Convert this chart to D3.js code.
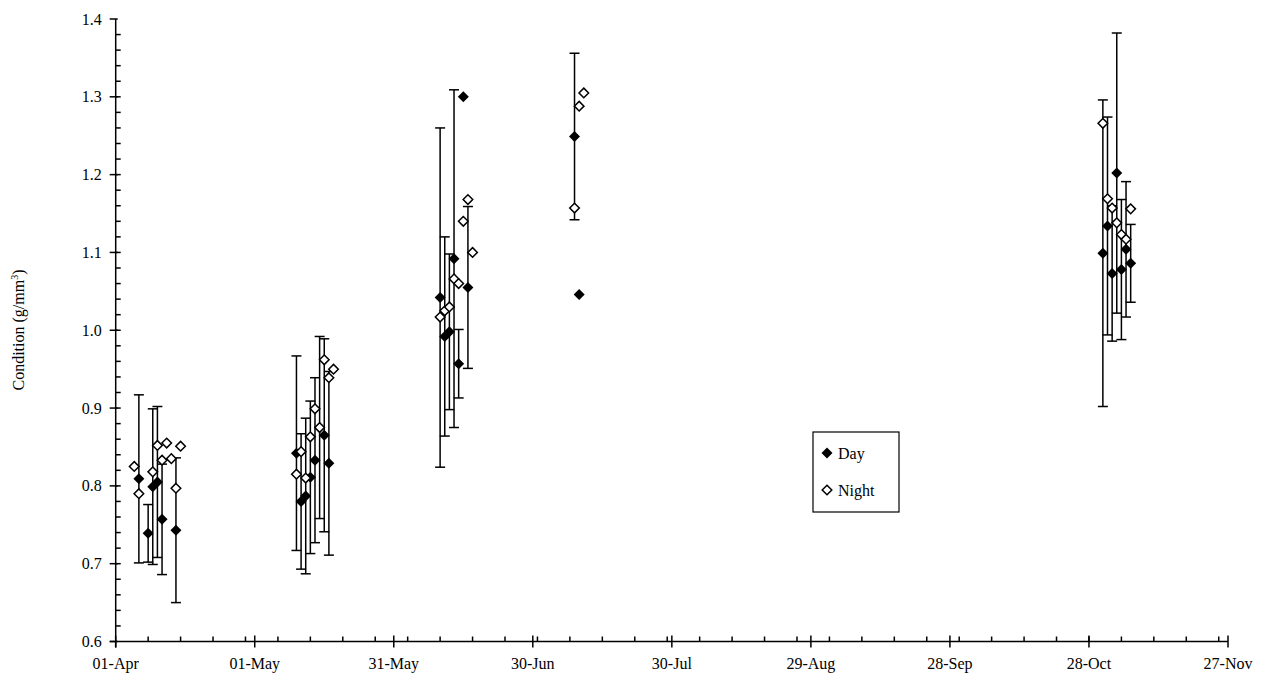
<!DOCTYPE html>
<html>
<head>
<meta charset="utf-8">
<script src="https://cdn.jsdelivr.net/npm/d3@7"></script>
<style>
  body { margin: 0; background: #fff; }
  svg { display: block; }
  svg text { font-family: Liberation Serif, Times New Roman, Times, DejaVu Serif, serif !important; }
</style>
</head>
<body>
<script>
// Day samples: date, mean condition, error (+/-)
var dayDates = ["04-06", "04-08", "04-09", "04-10", "04-11", "04-14",
  "05-10", "05-11", "05-12", "05-13", "05-14", "05-15", "05-16", "05-17",
  "06-10", "06-11", "06-12", "06-13", "06-14", "06-15", "06-16",
  "07-09", "07-10",
  "10-31", "11-01", "11-02", "11-03", "11-04", "11-05", "11-06"]
var dayValues = [0.809, 0.739, 0.799, 0.805, 0.757, 0.743,
  0.842, 0.780, 0.787, 0.811, 0.833, 0.875, 0.865, 0.829,
  1.042, 0.992, 0.998, 1.092, 0.957, 1.300, 1.055,
  1.249, 1.046,
  1.099, 1.134, 1.073, 1.202, 1.078, 1.104, 1.086]
var dayErrors = [0.108, 0.037, 0.100, 0.097, 0.071, 0.093,
  0.125, 0.087, 0.100, 0.098, 0.106, 0.117, 0.124, 0.118,
  0.218, 0.128, 0.100, 0.217, 0.044, 0, 0.104,
  0.107, 0,
  0.197, 0.140, 0.087, 0.180, 0.090, 0.087, 0.050]

// Night samples
var nightDates = ["04-05", "04-06", "04-09", "04-10", "04-11", "04-12", "04-13", "04-14", "04-15",
  "05-10", "05-11", "05-12", "05-13", "05-14", "05-15", "05-16", "05-17", "05-18",
  "06-10", "06-11", "06-12", "06-13", "06-14", "06-15", "06-16", "06-17",
  "07-09", "07-10", "07-11",
  "10-31", "11-01", "11-02", "11-03", "11-04", "11-05", "11-06"]
var nightValues = [0.825, 0.790, 0.818, 0.852, 0.833, 0.855, 0.835, 0.797, 0.851,
  0.815, 0.844, 0.810, 0.863, 0.899, 0.875, 0.962, 0.939, 0.950,
  1.017, 1.025, 1.030, 1.066, 1.060, 1.140, 1.168, 1.100,
  1.157, 1.288, 1.305,
  1.266, 1.169, 1.157, 1.138, 1.123, 1.117, 1.156]

var yTicks = [0.6, 0.7, 0.8, 0.9, 1.0, 1.1, 1.2, 1.3, 1.4]
var xStart = "04-01", xEnd = "11-27"

var parse = function(s) { return d3.timeParse("%Y-%m-%d")("2003-" + s) }

var width = 1271, height = 690
var margin = {top: 19, right: 43, bottom: 48.5, left: 115.7}
var serif = "Liberation Serif, serif"

var svg = d3.select("body").append("svg")
    .attr("width", width)
    .attr("height", height)

var x = d3.scaleTime()
    .domain([parse(xStart), parse(xEnd)])
    .range([margin.left, width - margin.right])

var y = d3.scaleLinear()
    .domain([0.6, 1.4])
    .range([height - margin.bottom, margin.top])

var x0 = margin.left, y0 = height - margin.bottom

// major x ticks every 30 days, minor every 7 days
var majorX = d3.range(0, 241, 30).map(function(d) { return d3.timeDay.offset(parse(xStart), d) })
var minorX = d3.range(7, 240, 7).map(function(d) { return d3.timeDay.offset(parse(xStart), d) })
var minorY = d3.range(0.62, 1.4, 0.02)

var axes = svg.append("g").attr("stroke", "#000").attr("stroke-width", 1.5)

// x axis
axes.append("line").attr("x1", x0 - 6).attr("x2", x.range()[1]).attr("y1", y0).attr("y2", y0)
axes.selectAll(".xmin").data(minorX).enter().append("line")
    .attr("x1", function(d) { return x(d) }).attr("x2", function(d) { return x(d) })
    .attr("y1", y0).attr("y2", y0 - 5)
axes.selectAll(".xmaj").data(majorX).enter().append("line")
    .attr("x1", function(d) { return x(d) }).attr("x2", function(d) { return x(d) })
    .attr("y1", y0 - 6).attr("y2", y0 + 6)

// y axis
axes.append("line").attr("x1", x0).attr("x2", x0).attr("y1", y0 + 6).attr("y2", y.range()[1])
axes.selectAll(".ymin").data(minorY).enter().append("line")
    .attr("x1", x0).attr("x2", x0 + 5)
    .attr("y1", function(d) { return y(d) }).attr("y2", function(d) { return y(d) })
axes.selectAll(".ymaj").data(yTicks).enter().append("line")
    .attr("x1", x0 - 6).attr("x2", x0 + 2)
    .attr("y1", function(d) { return y(d) }).attr("y2", function(d) { return y(d) })

svg.selectAll(".xlab").data(majorX).enter().append("text")
    .attr("x", function(d) { return x(d) })
    .attr("y", y0 + 27)
    .attr("text-anchor", "middle")
    .attr("font-family", serif)
    .attr("font-size", 16)
    .text(d3.timeFormat("%d-%b"))

svg.selectAll(".ylab").data(yTicks).enter().append("text")
    .attr("x", x0 - 14)
    .attr("y", function(d) { return y(d) })
    .attr("dy", "0.35em")
    .attr("text-anchor", "end")
    .attr("font-family", serif)
    .attr("font-size", 16)
    .text(d3.format(".1f"))

var title = svg.append("text")
    .attr("transform", "translate(24," + 330 + ") rotate(-90)")
    .attr("text-anchor", "middle")
    .attr("font-family", serif)
    .attr("font-size", 16)
title.append("tspan").text("Condition (g/mm")
title.append("tspan").attr("dy", "-6").attr("font-size", 10).text("3")
title.append("tspan").attr("dy", "6").text(")")

var day = dayDates.map(function(d, i) { return {date: parse(d), value: dayValues[i], err: dayErrors[i]} })
var night = nightDates.map(function(d, i) { return {date: parse(d), value: nightValues[i]} })

var diamond = function(r) { return "M0," + (-r) + "L" + r + ",0L0," + r + "L" + (-r) + ",0Z" }

// error bars
var eb = svg.append("g").attr("stroke", "#000").attr("stroke-width", 1.5)
day.filter(function(d) { return d.err > 0 }).forEach(function(d) {
    var cx = x(d.date)
    var top = y(d.value + d.err), bot = y(d.value - d.err)
    eb.append("line").attr("x1", cx).attr("x2", cx).attr("y1", top).attr("y2", bot)
    eb.append("line").attr("x1", cx - 5).attr("x2", cx + 5).attr("y1", top).attr("y2", top)
    eb.append("line").attr("x1", cx - 5).attr("x2", cx + 5).attr("y1", bot).attr("y2", bot)
})

svg.selectAll(".day").data(day).enter().append("path")
    .attr("class", "day")
    .attr("d", diamond(5.5))
    .attr("transform", function(d) { return "translate(" + x(d.date) + "," + y(d.value) + ")" })
    .attr("fill", "#000")

svg.selectAll(".night").data(night).enter().append("path")
    .attr("class", "night")
    .attr("d", diamond(4.8))
    .attr("transform", function(d) { return "translate(" + x(d.date) + "," + y(d.value) + ")" })
    .attr("fill", "#fff")
    .attr("stroke", "#000")
    .attr("stroke-width", 1.5)

// legend
var lg = svg.append("g").attr("transform", "translate(813,432)")
lg.append("rect").attr("width", 86).attr("height", 80)
    .attr("fill", "#fff").attr("stroke", "#000").attr("stroke-width", 1.2)
lg.append("path").attr("d", diamond(5.5)).attr("transform", "translate(14,21)").attr("fill", "#000")
lg.append("text").attr("x", 25).attr("y", 21).attr("dy", "0.35em")
    .attr("font-family", serif).attr("font-size", 16).text("Day")
lg.append("path").attr("d", diamond(4.8)).attr("transform", "translate(14,58)")
    .attr("fill", "#fff").attr("stroke", "#000").attr("stroke-width", 1.5)
lg.append("text").attr("x", 25).attr("y", 58).attr("dy", "0.35em")
    .attr("font-family", serif).attr("font-size", 16).text("Night")
</script>
</body>
</html>
